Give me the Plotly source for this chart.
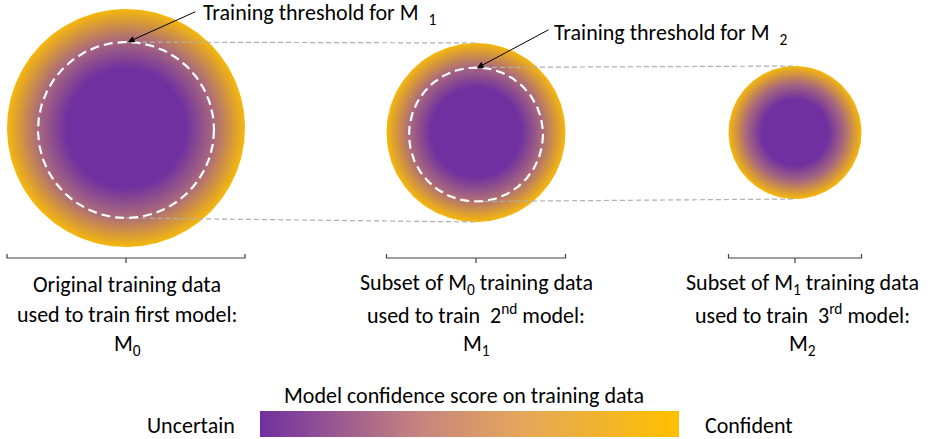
import numpy as np
import plotly.graph_objects as go

# ---- diagram data (pixel units) ----
circle_cx = [126, 476, 795]
circle_cy = [128, 132.5, 132.5]
circle_r = [119, 89.5, 66.5]
thresh_cx = [126, 476]
thresh_cy = [130, 134.5]
thresh_r = [88, 67]

purple = "#7030A0"
gold = "#F5B80C"
circle_scale = [[0, purple], [0.5, purple], [0.74, "#A9697D"], [1, gold]]
bar_scale = [[0, "#7030A0"], [0.38, "#C6847F"], [0.62, "#E4A65C"], [1, "#FFC000"]]

label_line1 = ["Original training data", "Subset of M<sub>0</sub> training data", "Subset of M<sub>1</sub> training data"]
label_line2 = ["used to train first model:", "used to train \u00a02<sup>nd</sup> model:", "used to train \u00a03<sup>rd</sup> model:"]
label_line3 = ["M<sub>0</sub>", "M<sub>1</sub>", "M<sub>2</sub>"]
label_x = [127, 476, 802]
threshold_texts = ["Training threshold for M\u00a0\u00a0<sub>1</sub>", "Training threshold for M\u00a0\u00a0<sub>2</sub>"]

FONT = "Carlito, Lato, sans-serif"
FS = 22
fig = go.Figure()
theta = np.linspace(0, 2 * np.pi, 241)

# gradient circles
for cx, cy, r in zip(circle_cx, circle_cy, circle_r):
    fig.add_trace(go.Scatter(
        x=cx + r * np.cos(theta), y=cy + r * np.sin(theta), mode="lines",
        line=dict(width=0), fill="toself",
        fillgradient=dict(type="radial", colorscale=circle_scale),
        hoverinfo="skip", showlegend=False))

# gray dashed connectors
for i in range(2):
    top0 = thresh_cy[i] - thresh_r[i]
    bot0 = thresh_cy[i] + thresh_r[i]
    top1 = circle_cy[i + 1] - circle_r[i + 1]
    bot1 = circle_cy[i + 1] + circle_r[i + 1]
    for y0, y1 in [(top0, top1), (bot0, bot1)]:
        fig.add_trace(go.Scatter(
            x=[thresh_cx[i], circle_cx[i + 1]], y=[y0, y1], mode="lines",
            line=dict(color="#AFAFAF", width=1.2, dash="5px,3px"),
            hoverinfo="skip", showlegend=False))

# white dashed threshold circles
for cx, cy, r in zip(thresh_cx, thresh_cy, thresh_r):
    fig.add_trace(go.Scatter(
        x=cx + r * np.cos(theta), y=cy + r * np.sin(theta), mode="lines",
        line=dict(color="white", width=2.2, dash="9px,5px"),
        hoverinfo="skip", showlegend=False))

# brackets
for cx, r in zip(circle_cx, circle_r):
    xl, xr, yb = cx - r, cx + r, 258
    fig.add_trace(go.Scatter(
        x=[xl, xl, xr, xr, None, cx, cx], y=[yb - 4, yb, yb, yb - 4, None, yb, yb + 5],
        mode="lines", line=dict(color="#404040", width=1.2),
        hoverinfo="skip", showlegend=False))

# color bar
bx0, bx1, by0, by1 = 260, 679, 411, 437
fig.add_trace(go.Scatter(
    x=[bx0, bx1, bx1, bx0, bx0], y=[by0, by0, by1, by1, by0], mode="lines",
    line=dict(width=0), fill="toself",
    fillgradient=dict(type="horizontal", colorscale=bar_scale),
    hoverinfo="skip", showlegend=False))

ann = []
# threshold arrows + text
arrow_tip = [(128, 42), (477, 68)]
arrow_tail = [(197, 11), (550, 29)]
text_pos = [(201, 14), (552, 34)]
for (tx, ty), (ax, ay), (px, py), t in zip(arrow_tip, arrow_tail, text_pos, threshold_texts):
    ann.append(dict(x=tx, y=ty, ax=ax, ay=ay, xref="x", yref="y", axref="x", ayref="y",
                    text="", showarrow=True, arrowhead=2, arrowsize=1.3, arrowwidth=1,
                    arrowcolor="black"))
    ann.append(dict(x=px, y=py, xref="x", yref="y", text=t, showarrow=False,
                    xanchor="left", yanchor="middle", font=dict(size=FS, color="black", family=FONT)))

for x, a, b, c in zip(label_x, label_line1, label_line2, label_line3):
    for y, t in [(284, a), (314, b), (345, c)]:
        ann.append(dict(x=x, y=y, xref="x", yref="y", text=t, showarrow=False,
                        xanchor="center", yanchor="middle", font=dict(size=FS, color="black", family=FONT)))

ann.append(dict(x=464, y=395, xref="x", yref="y", text="Model confidence score on training data",
                showarrow=False, xanchor="center", yanchor="middle",
                font=dict(size=FS, color="black", family=FONT)))
ann.append(dict(x=237, y=425, xref="x", yref="y", text="Uncertain", showarrow=False,
                xanchor="right", yanchor="middle", font=dict(size=FS, color="black", family=FONT)))
ann.append(dict(x=703, y=425, xref="x", yref="y", text="Confident", showarrow=False,
                xanchor="left", yanchor="middle", font=dict(size=FS, color="black", family=FONT)))

fig.update_layout(
    width=932, height=439, margin=dict(l=0, r=0, t=0, b=0),
    paper_bgcolor="white", plot_bgcolor="white",
    xaxis=dict(range=[0, 932], visible=False, fixedrange=True),
    yaxis=dict(range=[439, 0], visible=False, fixedrange=True),
    annotations=ann, showlegend=False)

fig.write_html("out.html", config={"displayModeBar": False},
               post_script="document.body.style.margin='0';document.body.style.overflow='hidden';")
